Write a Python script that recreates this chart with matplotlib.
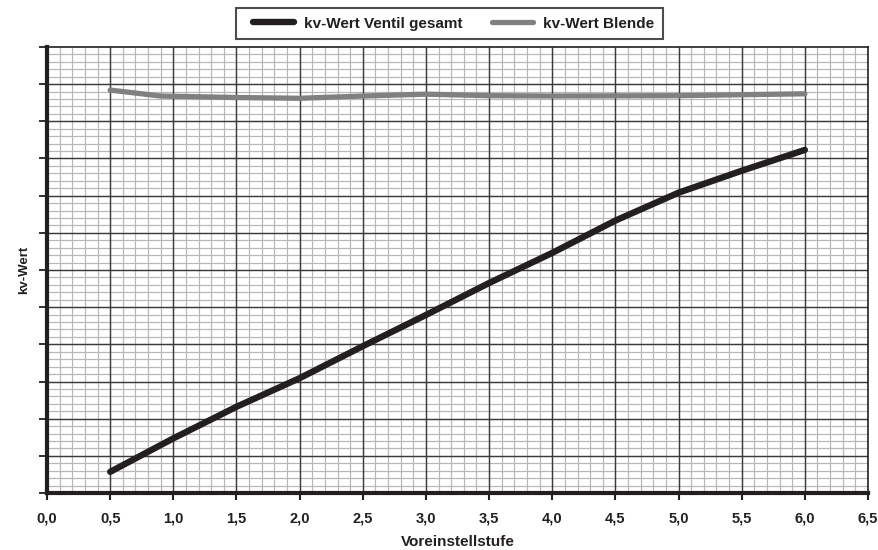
import numpy as np
import matplotlib.pyplot as plt
from matplotlib.legend_handler import HandlerLine2D
from matplotlib.ticker import MultipleLocator, FuncFormatter

# Values (y axis has no labels, units are grid steps).
stufe_ventil = [0.5, 1.0, 1.5, 2.0, 2.5, 3.0, 3.5, 4.0, 4.5, 5.0, 5.5, 6.0]
kv_ventil = [0.57, 1.47, 2.32, 3.09, 3.95, 4.79, 5.65, 6.46, 7.33, 8.08, 8.67, 9.23]

stufe_blende = [0.5, 0.9, 1.5, 2.0, 2.5, 3.0, 3.5, 4.0, 5.0, 6.0]
kv_blende = [10.84, 10.68, 10.64, 10.62, 10.68, 10.73, 10.69, 10.68, 10.69, 10.74]

plt.rcParams['font.family'] = ['Liberation Sans', 'DejaVu Sans']

fig = plt.figure(figsize=(8.79, 5.5), dpi=100)
ax = fig.add_axes([0.0535, 0.1036, 0.934, 0.811])

ax.set_xlim(0, 6.5)
ax.set_ylim(0, 12)

# Graph paper grid: light minor lines below, dark major lines above.
ax.vlines(np.arange(0.1, 6.5, 0.1), 0, 12, color='#b8b8b8', linewidth=0.9, zorder=0.5)
ax.hlines(np.arange(0.2, 12, 0.2), 0, 6.5, color='#b8b8b8', linewidth=0.9, zorder=0.5)
ax.vlines(np.arange(0.5, 6.5, 0.5), 0, 12, color='#3a3a3a', linewidth=1.0, zorder=0.6)
ax.hlines(np.arange(1, 12, 1), 0, 6.5, color='#3a3a3a', linewidth=1.0, zorder=0.6)

ax.xaxis.set_major_locator(MultipleLocator(0.5))
ax.yaxis.set_major_locator(MultipleLocator(1))

ventil, = ax.plot(stufe_ventil, kv_ventil, color='#231f20', linewidth=4.6,
                  solid_capstyle='round', label='kv-Wert Ventil gesamt', zorder=3)
blende, = ax.plot(stufe_blende, kv_blende, color='#808082', linewidth=3.8,
                  solid_capstyle='round', label='kv-Wert Blende', zorder=3)

ax.xaxis.set_major_formatter(FuncFormatter(lambda v, p: f"{v:.1f}".replace('.', ',')))
ax.set_yticklabels([])
ax.tick_params(axis='x', which='major', length=5, width=1.5, color='#231f20',
               labelsize=10.5, pad=8)
ax.tick_params(axis='y', which='major', length=6, width=1.3, color='#231f20')
for lbl in ax.get_xticklabels():
    lbl.set_fontweight('bold')
    lbl.set_color('#231f20')

for side in ['left', 'bottom']:
    ax.spines[side].set_linewidth(3)
    ax.spines[side].set_color('#231f20')
for side in ['top', 'right']:
    ax.spines[side].set_linewidth(1.2)
    ax.spines[side].set_color('#231f20')

ax.set_xlabel('Voreinstellstufe', fontsize=11, fontweight='bold',
              color='#231f20', labelpad=7)
ax.set_ylabel('kv-Wert', fontsize=9.5, fontweight='bold', color='#231f20',
              labelpad=3)

# Legend box above the plot; xpad leaves extra room before each handle.
leg = fig.legend(handles=[ventil, blende], loc='upper center',
                 bbox_to_anchor=(0.511, 0.985), borderaxespad=0, ncol=2,
                 fancybox=False, frameon=True, handlelength=3.3,
                 handletextpad=0.65, columnspacing=1.3, borderpad=0.55,
                 handler_map={ventil: HandlerLine2D(xpad=0.6),
                              blende: HandlerLine2D(xpad=0.6)},
                 prop={'weight': 'bold', 'size': 11})
leg.get_frame().set_edgecolor('#231f20')
leg.get_frame().set_linewidth(1.5)
for t in leg.get_texts():
    t.set_color('#231f20')

fig.savefig('out.png', dpi=100)
